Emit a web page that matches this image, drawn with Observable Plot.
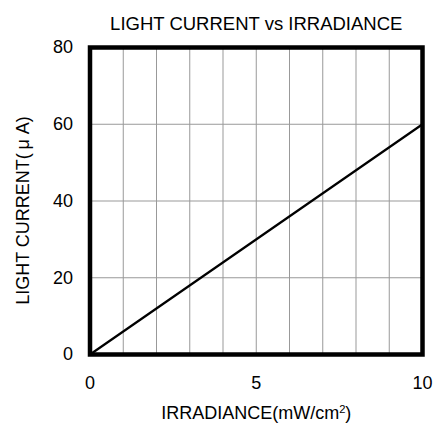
<!DOCTYPE html>
<html><head><meta charset="utf-8">
<script src="https://cdn.jsdelivr.net/npm/d3@7"></script>
<script src="https://cdn.jsdelivr.net/npm/@observablehq/plot@0.6"></script>
<style>body{margin:0;background:#fff;font-family:"Liberation Sans",Arial,sans-serif}</style>
</head><body><div id="chart"></div>
<script>
const irradiance = [0, 10];
const current = [0, 60];
const xTicks = [0, 5, 10];
const yTicks = [0, 20, 40, 60, 80];
const xGrid = [1,2,3,4,5,6,7,8,9];
const yGrid = [20,40,60];
const title = "LIGHT CURRENT vs IRRADIANCE";
const xLabel = "IRRADIANCE(mW/cm2)";
const yLabel = "LIGHT CURRENT(\u2009μ A)";

const data = irradiance.map((x,i)=>({x, y: current[i]}));
const font = '"Liberation Sans",Arial,"Noto Sans CJK JP",sans-serif';
const chart = Plot.plot({
  width: 441, height: 433,
  marginLeft: 89.5, marginRight: 19, marginTop: 47, marginBottom: 79,
  style: {fontFamily: font, background: "#fff"},
  x: {domain: [0,10], label: null},
  y: {domain: [0,80], label: null},
  marks: [
    Plot.ruleX(xGrid, {stroke: "#999", strokeWidth: 1}),
    Plot.ruleY(yGrid, {stroke: "#999", strokeWidth: 1}),
    Plot.line(data, {x: "x", y: "y", stroke: "#000", strokeWidth: 2.2}),
    Plot.frame({stroke: "#000", strokeWidth: 4.5}),
    Plot.axisX({ticks: xTicks, tickSize: 0, tickPadding: 22, fontSize: 18, fill: "#000", label: null}),
    Plot.axisY({ticks: yTicks, tickSize: 0, tickPadding: 17, fontSize: 18, fill: "#000", label: null}),
    Plot.text([title], {frameAnchor: "top", dy: -31, fontSize: 18.5, fill: "#000"}),
    Plot.text([xLabel], {frameAnchor: "bottom", dy: 64, fontSize: 18, fill: "#000", className: "xlab"}),
    Plot.text([yLabel], {frameAnchor: "left", textAnchor: "middle", dx: -66.5, dy: 9.5, rotate: -90, fontSize: 18, fill: "#000"})
  ]
});
// superscript on "cm2"
d3.select(chart).selectAll(".xlab text").each(function(){
  const t = d3.select(this);
  const s = t.text();
  const i = s.lastIndexOf("2");
  t.text(null);
  t.append("tspan").text(s.slice(0,i));
  t.append("tspan").attr("dy","-0.5em").attr("font-size","0.62em").text("2");
  t.append("tspan").attr("dy","0.31em").text(s.slice(i+1));
});
document.getElementById("chart").appendChild(chart);
</script></body></html>
